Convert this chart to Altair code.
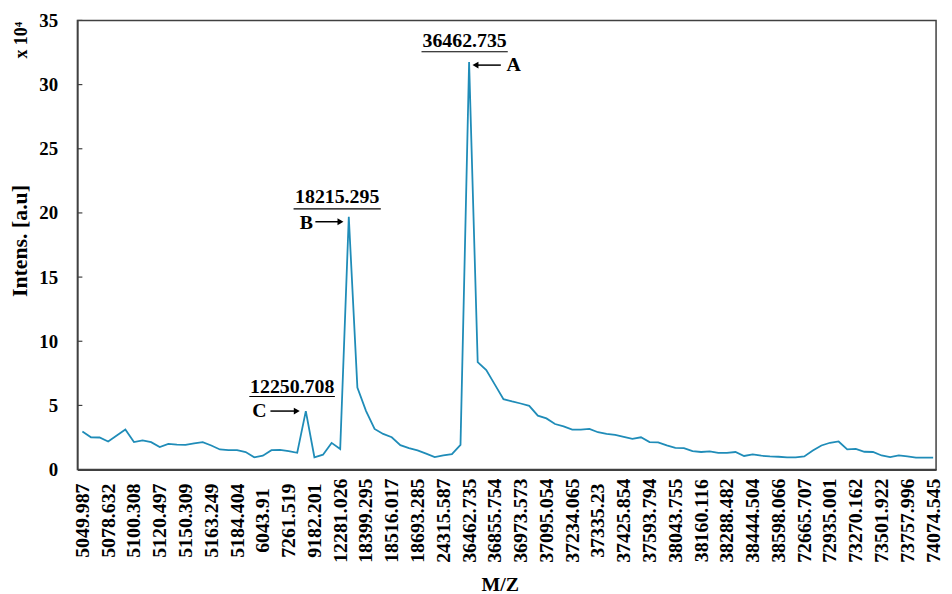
import altair as alt
import pandas as pd

tick_labels = ["5049.987", "5078.632", "5100.308", "5120.497", "5150.309", "5163.249",
               "5184.404", "6043.91", "7261.519", "9182.201", "12281.026", "18399.295",
               "18516.017", "18693.285", "24315.587", "36462.735", "36855.754", "36973.573",
               "37095.054", "37234.065", "37335.23", "37425.854", "37593.794", "38043.755",
               "38160.116", "38288.482", "38444.504", "38598.066", "72665.707", "72935.001",
               "73270.162", "73501.922", "73757.996", "74074.545"]

intensity = [2.96, 2.52, 2.50, 2.19, 2.65, 3.12, 2.14, 2.27, 2.14, 1.75,
             2.00, 1.95, 1.93, 2.05, 2.14, 1.88, 1.57, 1.51, 1.51, 1.37,
             0.96, 1.08, 1.51, 1.53, 1.44, 1.31, 4.56, 0.96, 1.16, 2.08,
             1.60, 19.70, 6.39, 4.58, 3.17, 2.78, 2.52, 1.90, 1.67, 1.49,
             1.24, 0.98, 1.10, 1.21, 1.93, 31.75, 8.37, 7.75, 6.62, 5.49,
             5.31, 5.15, 4.97, 4.20, 3.99, 3.55, 3.37, 3.12, 3.12, 3.17,
             2.91, 2.78, 2.70, 2.55, 2.40, 2.52, 2.14, 2.12, 1.88, 1.70,
             1.67, 1.44, 1.37, 1.42, 1.31, 1.31, 1.37, 1.06, 1.18, 1.08,
             1.03, 1.00, 0.95, 0.95, 1.03, 1.49, 1.88, 2.09, 2.19, 1.57,
             1.62, 1.39, 1.37, 1.10, 0.98, 1.10, 1.03, 0.93, 0.93, 0.93]

peak_labels = ["36462.735", "18215.295", "12250.708"]
peak_letters = ["A", "B", "C"]
peak_index = [45, 31, 26]
y_ticks = [0, 5, 10, 15, 20, 25, 30, 35]

FONT = "Liberation Serif"
LINE = "#1F8CB8"
AX = "#404040"

df = pd.DataFrame({"idx": list(range(len(intensity))), "val": intensity})

xscale = alt.Scale(domain=[-0.58, 99.34], nice=False, zero=False)
yscale = alt.Scale(domain=[0, 35], nice=False)

label_expr = "[" + ",".join(f"'{t}'" for t in tick_labels) + "][round(datum.value/3)]"

x_axis = alt.Axis(values=[i * 3 for i in range(len(tick_labels))],
                  labelExpr=label_expr, labelAngle=270, labelAlign="center",
                  labelBaseline="middle", labelPadding=51, ticks=False, grid=False,
                  labelOverlap=False, labelFont=FONT, labelFontSize=20,
                  labelFontWeight="bold", labelColor="black",
                  title="M/Z", titleFont=FONT, titleFontSize=20, titleFontWeight="bold",
                  titleColor="black", titleX=426, titleY=106, titleBaseline="top",
                  domainColor=AX, domainWidth=2)
y_axis = alt.Axis(values=y_ticks, ticks=False, grid=False, labelPadding=20,
                  labelFont=FONT, labelFontSize=19, labelFontWeight="bold",
                  labelColor="black",
                  title="Intens. [a.u]", titleFont=FONT, titleFontSize=22,
                  titleFontWeight="bold", titleColor="black", titleAngle=270,
                  titleX=-58, titleY=222, titleAlign="center", titleBaseline="middle",
                  domainColor=AX, domainWidth=1.5)

def enc_xy():
    return dict(x=alt.X("idx:Q", scale=xscale, axis=x_axis),
                y=alt.Y("val:Q", scale=yscale, axis=y_axis))

line = alt.Chart(df).mark_line(color=LINE, strokeWidth=1.8).encode(**enc_xy())

ticks_df = pd.DataFrame({"val": y_ticks})
yticks = alt.Chart(ticks_df).mark_rule(color=AX, strokeWidth=1.2).encode(
    y=alt.Y("val:Q", scale=yscale, axis=y_axis),
    x=alt.value(0), x2=alt.value(5),
)

exp_text = alt.Chart(pd.DataFrame({"s": ["x 10\u2074"]})).mark_text(
    angle=270, font=FONT, fontSize=18, fontWeight="bold", color="black",
    align="center", baseline="middle",
).encode(text="s:N", x=alt.value(-56), y=alt.value(20))

geo = {
    "A": dict(tdx=-4.5, tdy=-21.5, u0=-48, u1=39, udy=-10.5, tip=3, tail=32, ady=3, dirn="left", ldx=45, ldy=3),
    "B": dict(tdx=-11.7, tdy=-19.5, u0=-55.7, u1=32.3, udy=-8, tip=-5, tail=-33.7, ady=5, dirn="right", ldx=-42.7, ldy=6),
    "C": dict(tdx=-13.7, tdy=-24, u0=-57, u1=29.3, udy=-14.7, tip=-5.7, tail=-35.7, ady=0, dirn="right", ldx=-46.7, ldy=0),
}

layers = [line, yticks, exp_text]
for lab, let, pi in zip(peak_labels, peak_letters, peak_index):
    g = geo[let]
    pdf = pd.DataFrame({"idx": [pi], "val": [intensity[pi]], "lab": [lab], "let": [let]})
    base = alt.Chart(pdf)
    layers.append(base.mark_text(font=FONT, fontSize=20, fontWeight="bold", color="black",
                                 align="center", baseline="middle", dx=g["tdx"], dy=g["tdy"])
                  .encode(text="lab:N", **enc_xy()))
    layers.append(base.mark_rule(color="black", strokeWidth=1.2, xOffset=g["u0"],
                                 x2Offset=g["u1"], yOffset=g["udy"])
                  .encode(x2=alt.X2("idx"), **enc_xy()))
    r = 3.4
    head_c = g["tip"] + (r if g["dirn"] == "left" else -r)
    layers.append(base.mark_rule(color="black", strokeWidth=1.5, xOffset=head_c,
                                 x2Offset=g["tail"], yOffset=g["ady"])
                  .encode(x2=alt.X2("idx"), **enc_xy()))
    layers.append(base.mark_point(shape="triangle-" + g["dirn"], filled=True, color="black",
                                  opacity=1, size=48, xOffset=head_c, yOffset=g["ady"])
                  .encode(**enc_xy()))
    layers.append(base.mark_text(font=FONT, fontSize=20, fontWeight="bold", color="black",
                                 align="center", baseline="middle", dx=g["ldx"], dy=g["ldy"])
                  .encode(text="let:N", **enc_xy()))

chart = alt.layer(*layers).properties(
    width=866, height=453,
    padding={"left": 70, "top": 10, "right": 8, "bottom": 130},
    autosize=alt.AutoSizeParams(type="none"),
    background="white",
).configure_view(stroke=AX, strokeWidth=1.5)

chart.save("out.html", embed_options={"renderer": "svg", "actions": False})
